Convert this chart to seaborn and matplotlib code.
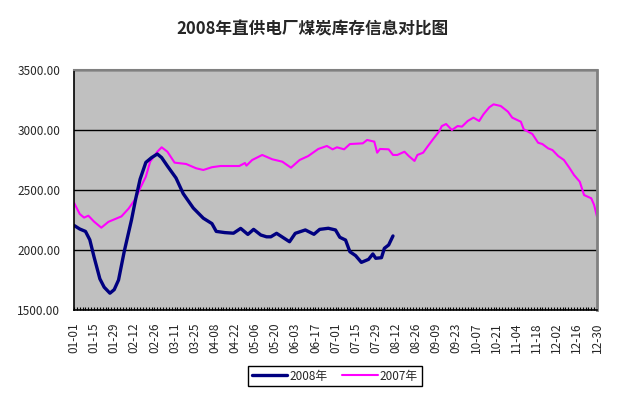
import pandas as pd
import matplotlib
matplotlib.use("Agg")
import matplotlib.pyplot as plt
import seaborn as sns

# day offsets from 01-01 and stock values
days_2008 = [0, 4, 8, 11, 14, 18, 21, 25, 28, 31, 35, 40, 43, 46, 50, 54, 58, 61, 65, 71,
             76, 83, 90, 96, 99, 105, 111, 116, 121, 125, 130, 134, 137, 141, 146, 150, 154,
             161, 167, 171, 177, 182, 185, 189, 192, 196, 200, 205, 208, 210, 214, 216, 219, 222]
vals_2008 = [2205, 2175, 2155, 2085, 1940, 1760, 1690, 1640, 1670, 1750, 1990, 2250, 2430, 2590,
             2730, 2770, 2800, 2770, 2700, 2600, 2470, 2350, 2265, 2220, 2155, 2145, 2140, 2180,
             2130, 2172, 2125, 2110, 2110, 2139, 2100, 2069, 2139, 2167, 2131, 2172, 2181, 2167,
             2106, 2083, 1986, 1953, 1897, 1922, 1967, 1931, 1936, 2014, 2042, 2117]

days_2007 = [0, 4, 7, 10, 14, 19, 24, 29, 33, 38, 43, 46, 50, 53, 58, 61, 65, 70, 78, 85, 90,
             96, 102, 115, 119, 120, 124, 131, 138, 145, 151, 157, 163, 170, 176, 180, 183, 188,
             192, 201, 204, 209, 211, 213, 219, 222, 225, 230, 233, 237, 239, 243, 246, 250, 254,
             256, 259, 263, 267, 270, 274, 278, 282, 285, 289, 292, 297, 302, 305, 311, 313, 319,
             323, 326, 330, 333, 337, 341, 345, 348, 352, 355, 360, 362, 364]
vals_2007 = [2394, 2300, 2270, 2286, 2236, 2186, 2235, 2260, 2280, 2345, 2430, 2514, 2611, 2736,
             2819, 2856, 2819, 2728, 2717, 2681, 2667, 2690, 2700, 2700, 2725, 2703, 2750, 2792,
             2756, 2736, 2686, 2750, 2783, 2842, 2867, 2839, 2856, 2839, 2883, 2889, 2917, 2903,
             2811, 2842, 2839, 2792, 2792, 2819, 2783, 2742, 2792, 2811, 2861, 2925, 2986, 3033,
             3050, 3000, 3033, 3028, 3075, 3103, 3075, 3131, 3189, 3214, 3200, 3153, 3103, 3069,
             3006, 2967, 2894, 2883, 2847, 2833, 2783, 2750, 2681, 2625, 2569, 2458, 2431, 2375, 2278]

tick_labels = ["01-01", "01-15", "01-29", "02-12", "02-26", "03-11", "03-25", "04-08", "04-22",
               "05-06", "05-20", "06-03", "06-17", "07-01", "07-15", "07-29", "08-12", "08-26",
               "09-09", "09-23", "10-07", "10-21", "11-04", "11-18", "12-02", "12-16", "12-30"]
y_ticks = [1500, 2000, 2500, 3000, 3500]

sns.set_style("white")
plt.rcParams['font.family'] = ['Noto Sans CJK SC', 'DejaVu Sans']

df08 = pd.DataFrame({"day": days_2008, "value": vals_2008})
df07 = pd.DataFrame({"day": days_2007, "value": vals_2007})

fig = plt.figure(figsize=(6.25, 3.98), dpi=100)
ax = fig.add_axes([0.1184, 0.2211, 0.8368, 0.603])
ax.set_facecolor("#C0C0C0")

sns.lineplot(data=df07, x="day", y="value", ax=ax, color="#FF00FF", linewidth=1.5, label="2007年")
sns.lineplot(data=df08, x="day", y="value", ax=ax, color="#000080", linewidth=2.4, label="2008年")

ax.set_xlim(0, 364)
ax.set_ylim(1500, 3500)
ax.set_yticks(y_ticks)
ax.set_yticklabels([f"{v}.00" for v in y_ticks], fontsize=8.5)
ax.set_xticks(range(0, 365, 14))
ax.set_xticklabels(tick_labels, rotation=90, fontsize=8.5)
ax.set_xticks(range(0, 365, 2), minor=True)
ax.tick_params(axis="x", which="both", bottom=True, direction="in", length=2.5,
               width=0.8, color="black")
ax.tick_params(axis="x", which="major", pad=9)
ax.tick_params(axis="y", left=False, length=0, pad=10)
ax.set_xlabel("")
ax.set_ylabel("")

ax.grid(axis="y", color="black", linewidth=1)
ax.set_axisbelow(True)
ax.spines["left"].set_color("black")
ax.spines["bottom"].set_color("black")
ax.spines["left"].set_linewidth(1.2)
ax.spines["bottom"].set_linewidth(1.2)
ax.spines["top"].set_color("#808080")
ax.spines["right"].set_color("#808080")
ax.spines["top"].set_linewidth(1.5)
ax.spines["right"].set_linewidth(2)

handles, labels = ax.get_legend_handles_labels()
ax.legend(handles[::-1], labels[::-1], loc="center", bbox_to_anchor=(0.536, 0.055),
          bbox_transform=fig.transFigure, ncol=2, fontsize=8.5, frameon=True, fancybox=False,
          edgecolor="black", framealpha=1, handlelength=3, columnspacing=1.2,
          borderpad=0.3, handletextpad=0.2)

fig.text(0.5, 0.925, "2008年直供电厂煤炭库存信息对比图", ha="center", va="center",
         fontsize=12, fontweight="bold")

fig.savefig("out.png", dpi=100, facecolor="white")
